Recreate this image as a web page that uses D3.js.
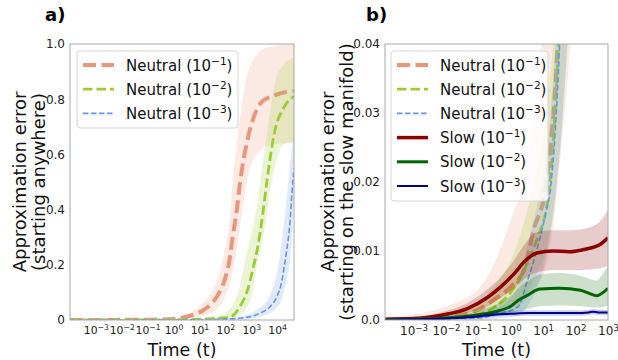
<!DOCTYPE html>
<html><head><meta charset="utf-8">
<script src="https://cdn.jsdelivr.net/npm/d3@7"></script>
<style>body{margin:0;background:#fff} text{font-family:"DejaVu Sans",sans-serif}</style>
</head><body><svg id="c" width="618" height="360"></svg>
<script>
// ---------- tick labels ----------
const xTicksA = [1e-3,1e-2,1e-1,1e0,1e1,1e2,1e3,1e4];
const xTickExpA = ["\u22123","\u22122","\u22121","0","1","2","3","4"];
const yTicksA = [0,0.2,0.4,0.6,0.8,1.0];
const yTickLabelsA = ["0","0.2","0.4","0.6","0.8","1.0"];
const xTicksB = [1e-3,1e-2,1e-1,1e0,1e1,1e2,1e3];
const xTickExpB = ["\u22123","\u22122","\u22121","0","1","2","3"];
const yTicksB = [0,0.01,0.02,0.03,0.04];
const yTickLabelsB = ["0.0","0.01","0.02","0.03","0.04"];

// ---------- panel a data (log10 t, mean, lower, upper) ----------
const aN1_logT = [-4,-2,-1,0,0.5,1,1.3,1.66,1.97,2.16,2.28,2.43,2.57,2.7,2.85,2.95,3.2,3.4,3.8,4.3,4.65];
const aN1_mean = [0,0.0005,0.001,0.004,0.012,0.028,0.045,0.083,0.145,0.217,0.30,0.39,0.50,0.58,0.65,0.69,0.76,0.79,0.81,0.825,0.83];
const aN1_hi   = [0.002,0.002,0.003,0.008,0.022,0.05,0.08,0.14,0.25,0.36,0.5,0.63,0.74,0.82,0.89,0.92,0.96,0.98,0.99,1.0,1.0];
const aN1_lo   = [0,0,0,0.001,0.005,0.012,0.02,0.04,0.08,0.13,0.18,0.25,0.34,0.43,0.51,0.55,0.6,0.62,0.635,0.64,0.64];

const aN2_logT = [-4,-1,0,1,1.5,2.16,2.55,2.86,3.05,3.24,3.44,3.6,3.75,3.92,4.2,4.5,4.65];
const aN2_mean = [0,0.0005,0.001,0.003,0.005,0.01,0.047,0.11,0.18,0.26,0.38,0.5,0.6,0.69,0.76,0.80,0.81];
const aN2_hi   = [0.001,0.001,0.002,0.006,0.01,0.04,0.12,0.26,0.33,0.43,0.57,0.67,0.77,0.86,0.92,0.945,0.95];
const aN2_lo   = [0,0,0,0.001,0.002,0.004,0.02,0.05,0.1,0.21,0.29,0.38,0.48,0.56,0.63,0.645,0.65];

const aN3_logT = [-4,0,1,2,2.84,3.34,3.72,3.99,4.19,4.3,4.38,4.5,4.57,4.65];
const aN3_mean = [0,0.0005,0.001,0.003,0.01,0.025,0.048,0.085,0.145,0.21,0.26,0.36,0.46,0.55];
const aN3_hi   = [0.001,0.001,0.002,0.005,0.018,0.045,0.09,0.17,0.29,0.38,0.45,0.56,0.63,0.68];
const aN3_lo   = [0,0,0,0.001,0.004,0.012,0.025,0.045,0.08,0.12,0.15,0.22,0.3,0.42];

// ---------- panel b data ----------
const bN1_logT = [-4,-3,-2,-1,-0.5,0,0.43,0.72,1.05,1.2,1.35,1.45,1.6,1.85,2.2,3];
const bN1_mean = [0.00005,0.0001,0.0004,0.0015,0.003,0.0048,0.0075,0.0133,0.0184,0.024,0.032,0.04,0.052,0.075,0.11,0.2];
const bN1_hi   = [0.0003,0.0008,0.002,0.0045,0.0083,0.0145,0.021,0.03,0.045,0.052,0.06,0.066,0.08,0.11,0.16,0.3];
const bN1_lo   = [0,0,0.0001,0.0004,0.0009,0.0017,0.0028,0.0045,0.0072,0.0105,0.015,0.02,0.027,0.04,0.06,0.12];

const bN2_logT = [-4,-3,-2,-1,-0.49,0.12,0.52,0.83,1.14,1.3,1.42,1.5,1.75,2.2,3];
const bN2_mean = [0,0.0001,0.0002,0.0008,0.0019,0.0048,0.0083,0.012,0.0174,0.025,0.035,0.042,0.065,0.11,0.2];
const bN2_hi   = [0.0002,0.0005,0.001,0.0025,0.005,0.01,0.016,0.022,0.032,0.04,0.05,0.056,0.08,0.13,0.25];
const bN2_lo   = [0,0,0,0.0001,0.0005,0.002,0.004,0.007,0.011,0.015,0.02,0.024,0.04,0.07,0.15];

const bN3_logT = [-4,-3,-1,-0.3,0.22,0.52,0.83,1.08,1.23,1.38,1.47,1.55,1.75,2.2,3];
const bN3_mean = [0,0.0001,0.0003,0.001,0.0019,0.0058,0.0106,0.0155,0.0193,0.028,0.036,0.045,0.065,0.11,0.2];
const bN3_hi   = [0.0002,0.0004,0.001,0.002,0.005,0.011,0.017,0.024,0.03,0.04,0.046,0.054,0.08,0.13,0.25];
const bN3_lo   = [0,0,0,0.0002,0.0006,0.002,0.005,0.009,0.013,0.018,0.022,0.026,0.04,0.07,0.15];

const bS1_logT = [-4,-3,-2.15,-1.32,-0.71,-0.31,0.12,0.43,0.8,1.3,1.8,2.33,2.74,3];
const bS1_mean = [0.0001,0.0002,0.0007,0.0017,0.0033,0.0048,0.0068,0.0085,0.0097,0.01,0.0099,0.0103,0.0109,0.0119];
const bS1_hi   = [0.0002,0.0004,0.0011,0.0025,0.0045,0.0062,0.0088,0.011,0.0127,0.013,0.013,0.0133,0.0142,0.016];
const bS1_lo   = [0,0.0001,0.0004,0.001,0.002,0.0032,0.0046,0.006,0.0069,0.0072,0.0072,0.0073,0.0075,0.0078];

const bS2_logT = [-4,-3,-2,-1.1,-0.49,0,0.28,0.52,0.9,1.5,2.15,2.4,2.65,2.85,3];
const bS2_mean = [0,0.0001,0.0003,0.0007,0.0012,0.002,0.003,0.0036,0.0045,0.0046,0.0043,0.0039,0.0035,0.004,0.0046];
const bS2_hi   = [0.0001,0.0002,0.0005,0.0012,0.0022,0.0035,0.0048,0.0056,0.0066,0.0068,0.0064,0.006,0.0057,0.0068,0.0078];
const bS2_lo   = [0,0,0.0001,0.0003,0.0006,0.001,0.0013,0.0016,0.002,0.0021,0.002,0.0019,0.0018,0.0019,0.0021];

const bS3_logT = [-4,-3,-2,-1,-0.5,0,0.5,1,1.5,2,2.4,2.55,2.7,3];
const bS3_mean = [0,0.0001,0.0002,0.0005,0.0008,0.0009,0.001,0.001,0.001,0.001,0.0011,0.0012,0.0011,0.0011];
const bS3_hi   = [0.0001,0.0002,0.0004,0.0008,0.0012,0.0013,0.0014,0.0014,0.0014,0.0014,0.0015,0.0016,0.0015,0.0015];
const bS3_lo   = [0,0,0.0001,0.0003,0.0005,0.0006,0.0006,0.0006,0.0006,0.0006,0.0007,0.0008,0.0007,0.0007];

const seriesLabels = ["Neutral","Neutral","Neutral","Slow","Slow","Slow"];
const seriesExp = ["\u22121","\u22122","\u22123","\u22121","\u22122","\u22123"];
const seriesColors = ["#E9967A","#9ACD32","#6495ED","#8B0000","#006400","#00008B"];

// ---------- drawing ----------
const svg = d3.select("#c");
const styles = [
  {w:4, dash:"13,5.5"},
  {w:2.8, dash:"9.5,4"},
  {w:1.6, dash:"5.5,2.5"},
  {w:3.5, dash:null},
  {w:3, dash:null},
  {w:2, dash:null}
];
function mk(logT, mean, lo, hi){ return logT.map((l,i)=>({t:Math.pow(10,l), m:mean[i], lo:lo[i], hi:hi[i]})); }

function panel(cfg){
  const x = d3.scaleLog().domain(cfg.xDomain).range([cfg.left,cfg.right]);
  const y = d3.scaleLinear().domain(cfg.yDomain).range([cfg.bottom,cfg.top]);
  const id = "clip"+cfg.name;
  svg.append("clipPath").attr("id",id).append("rect")
    .attr("x",cfg.left).attr("y",cfg.top).attr("width",cfg.right-cfg.left).attr("height",cfg.bottom-cfg.top);
  const g = svg.append("g").attr("clip-path",`url(#${id})`);
  const area = d3.area().x(d=>x(d.t)).y0(d=>y(d.lo)).y1(d=>y(d.hi)).curve(d3.curveMonotoneX);
  const line = d3.line().x(d=>x(d.t)).y(d=>y(d.m)).curve(d3.curveMonotoneX);
  cfg.series.forEach(s=>{
    g.append("path").datum(s.data).attr("d",area).attr("fill",seriesColors[s.k]).attr("fill-opacity",0.2);
    g.append("path").datum(s.data).attr("d",line).attr("fill","none")
      .attr("stroke",seriesColors[s.k]).attr("stroke-width",styles[s.k].w)
      .attr("stroke-dasharray",styles[s.k].dash);
  });
  // axes
  const xa = svg.append("g").attr("transform",`translate(0,${cfg.bottom})`)
    .call(d3.axisBottom(x).tickValues(cfg.xTicks).tickSize(0).tickPadding(6).tickFormat(()=>""));
  xa.select(".domain").remove();
  xa.selectAll(".tick text").each(function(d,i){
    const t = d3.select(this).attr("font-size",cfg.xFont).attr("fill","#222").attr("font-family","DejaVu Sans");
    t.append("tspan").text("10");
    t.append("tspan").attr("dy","-0.45em").attr("font-size",cfg.xFont*0.72).text(cfg.xExp[i]);
  });
  const ya = svg.append("g").attr("transform",`translate(${cfg.left},0)`)
    .call(d3.axisLeft(y).tickValues(cfg.yTicks).tickSize(0).tickPadding(5).tickFormat((d,i)=>cfg.yLabels[i]));
  ya.select(".domain").remove();
  ya.selectAll(".tick text").attr("font-size",12).attr("fill","#222").attr("font-family","DejaVu Sans");
  svg.append("rect").attr("x",cfg.left).attr("y",cfg.top).attr("width",cfg.right-cfg.left)
    .attr("height",cfg.bottom-cfg.top).attr("fill","none").attr("stroke","#a8a8a8").attr("stroke-width",1);
  // labels
  svg.append("text").attr("x",(cfg.left+cfg.right)/2).attr("y",356).attr("text-anchor","middle")
    .attr("font-size",17.5).attr("fill","#111").text("Time (t)");
  const cy = (cfg.top+cfg.bottom)/2;
  cfg.yTitle.forEach((s,i)=>{
    svg.append("text").attr("transform",`translate(${cfg.ylabX[i]},${cy}) rotate(-90)`)
      .attr("text-anchor","middle").attr("font-size",18).attr("fill","#111").text(s);
  });
  svg.append("text").attr("x",cfg.titleX).attr("y",21).attr("font-size",18).attr("font-weight","bold")
    .attr("fill","#000").text(cfg.title);
  // legend
  const L = cfg.legend;
  svg.append("rect").attr("x",L.x).attr("y",L.y).attr("width",L.w).attr("height",L.h).attr("rx",3)
    .attr("fill","#fff").attr("fill-opacity",0.8).attr("stroke","#d6d6d6");
  cfg.series.forEach((s,i)=>{
    const ry = L.y + 14 + i*24.2;
    svg.append("line").attr("x1",L.x+6).attr("x2",L.x+37).attr("y1",ry).attr("y2",ry)
      .attr("stroke",seriesColors[s.k]).attr("stroke-width",styles[s.k].w)
      .attr("stroke-dasharray",styles[s.k].dash);
    const t = svg.append("text").attr("x",L.x+49).attr("y",ry+5.5).attr("font-size",15).attr("fill","#111");
    t.append("tspan").text(seriesLabels[s.k]+" (10");
    t.append("tspan").attr("dy",-6).attr("font-size",10.5).text(seriesExp[s.k]);
    t.append("tspan").attr("dy",6).text(")");
  });
}

panel({
  name:"a", left:70, right:294, top:44, bottom:320,
  xDomain:[1e-4, Math.pow(10,4.65)], yDomain:[0,1], xFont:10.8,
  xTicks:xTicksA, xExp:xTickExpA, yTicks:yTicksA, yLabels:yTickLabelsA,
  yTitle:["Approximation error","(starting anywhere)"], ylabX:[26,45],
  title:"a)", titleX:45,
  legend:{x:77,y:51,w:161,h:77},
  series:[
    {k:0, data:mk(aN1_logT,aN1_mean,aN1_lo,aN1_hi)},
    {k:1, data:mk(aN2_logT,aN2_mean,aN2_lo,aN2_hi)},
    {k:2, data:mk(aN3_logT,aN3_mean,aN3_lo,aN3_hi)}
  ]
});
panel({
  name:"b", left:385, right:608, top:44, bottom:320,
  xDomain:[Math.pow(10,-3.88), 1e3], yDomain:[0,0.04], xFont:12,
  xTicks:xTicksB, xExp:xTickExpB, yTicks:yTicksB, yLabels:yTickLabelsB,
  yTitle:["Approximation error","(starting on the slow manifold)"], ylabX:[334,353],
  title:"b)", titleX:366,
  legend:{x:391,y:51,w:157,h:150},
  series:[
    {k:0, data:mk(bN1_logT,bN1_mean,bN1_lo,bN1_hi)},
    {k:1, data:mk(bN2_logT,bN2_mean,bN2_lo,bN2_hi)},
    {k:2, data:mk(bN3_logT,bN3_mean,bN3_lo,bN3_hi)},
    {k:3, data:mk(bS1_logT,bS1_mean,bS1_lo,bS1_hi)},
    {k:4, data:mk(bS2_logT,bS2_mean,bS2_lo,bS2_hi)},
    {k:5, data:mk(bS3_logT,bS3_mean,bS3_lo,bS3_hi)}
  ]
});
</script></body></html>
